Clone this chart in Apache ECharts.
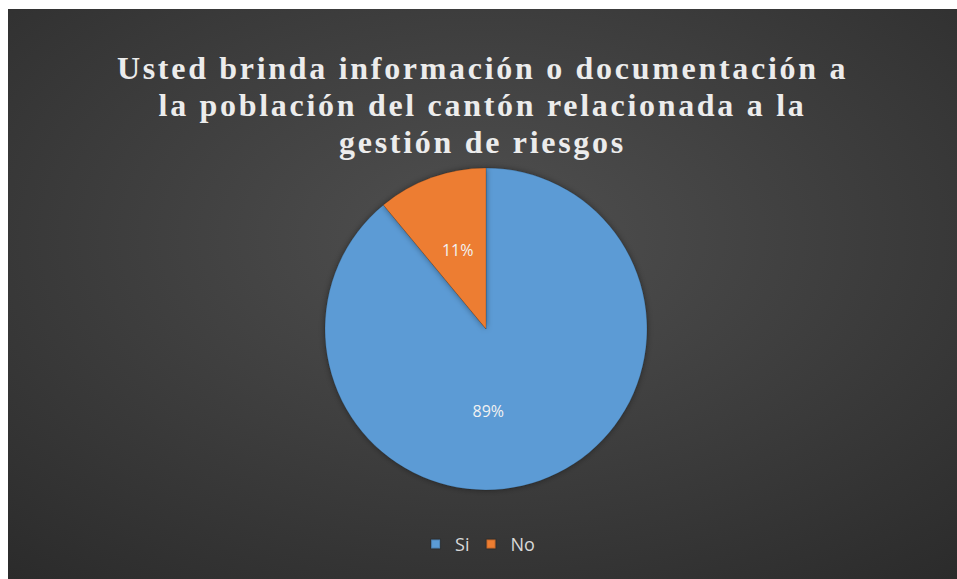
<!DOCTYPE html>
<html>
<head>
<meta charset="utf-8">
<script src="https://cdn.jsdelivr.net/npm/echarts@6/dist/echarts.min.js"></script>
<style>
    html, body { margin: 0; padding: 0; background: #ffffff; }
    #chart { position: absolute; left: 8px; top: 9px; width: 949px; height: 570px; }
    /* espaciado de letras del título (solo la fuente serif) */
    #chart text[style*="Serif"] { letter-spacing: 2.7px; }
</style>
</head>
<body>
<div id="chart"></div>
<script>
    // datos del gráfico
    var categories = ['Si', 'No'];
    var values = [89, 11];
    var colors = ['#5b9bd5', '#ed7d31'];
    var titleText = 'Usted brinda información o documentación a\nla población del cantón relacionada a la\ngestión de riesgos';

    var chart = echarts.init(document.getElementById('chart'), null, { renderer: 'svg' });

    var pieData = categories.map(function (name, i) {
        var item = { name: name, value: values[i], itemStyle: { color: colors[i] } };
        // Excel coloca la etiqueta del sector grande más cerca del centro
        if (i === 0) {
            item.label = { offset: [-26, 3] };
        }
        return item;
    });

    var options = {
        backgroundColor: {
            type: 'radial',
            x: 0.5,
            y: 0.4,
            r: 0.8,
            colorStops: [
                { offset: 0, color: '#505050' },
                { offset: 1, color: '#2a2a2a' }
            ]
        },
        title: {
            text: titleText,
            left: 'center',
            top: 35,
            textStyle: {
                color: '#ececec',
                fontFamily: 'Liberation Serif',
                fontWeight: 'bold',
                fontSize: 32,
                lineHeight: 37,
                align: 'center'
            }
        },
        legend: {
            top: 521,
            left: 'center',
            icon: 'rect',
            itemWidth: 9,
            itemHeight: 9,
            itemGap: 16,
            textStyle: {
                color: '#d9d9d9',
                fontFamily: 'Open Sans',
                fontSize: 18,
                padding: [0, 0, 0, 10]
            },
            data: categories
        },
        series: [
            {
                type: 'pie',
                center: [478, 320],
                radius: 161,
                startAngle: 90,
                clockwise: true,
                label: {
                    show: true,
                    position: 'inside',
                    formatter: '{d}%',
                    color: '#f2f2f2',
                    fontFamily: 'Open Sans',
                    fontSize: 16
                },
                labelLine: { show: false },
                itemStyle: {
                    borderColor: 'rgba(0,0,0,0.15)',
                    borderWidth: 1,
                    shadowBlur: 6,
                    shadowColor: 'rgba(0,0,0,0.4)'
                },
                emphasis: { disabled: true },
                data: pieData
            }
        ]
    };

    chart.setOption(options);
</script>
</body>
</html>
